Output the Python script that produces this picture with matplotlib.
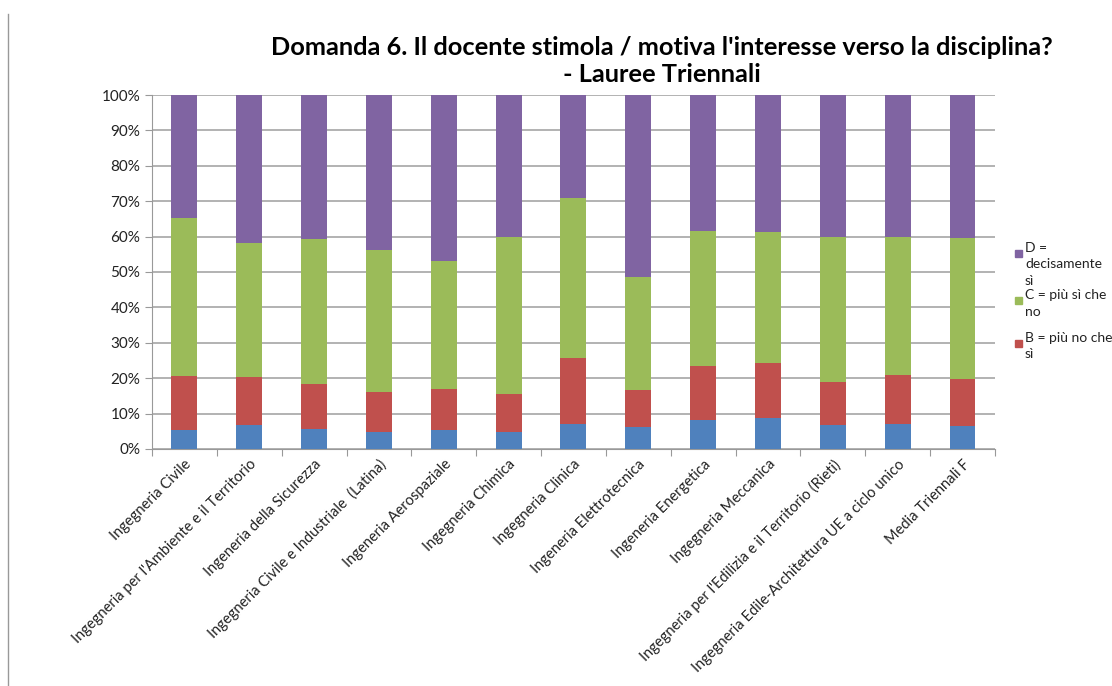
import matplotlib.pyplot as plt
import numpy as np
from matplotlib.lines import Line2D
from matplotlib.patches import Rectangle

plt.rcParams['font.family'] = ['Lato', 'DejaVu Sans']

corsi = ['Ingegneria Civile',
         "Ingegneria per l'Ambiente e il Territorio",
         'Ingeneria della Sicurezza',
         'Ingegneria Civile e Industriale  (Latina)',
         'Ingeneria Aerospaziale',
         'Ingegneria Chimica',
         'Ingegneria Clinica',
         'Ingeneria Elettrotecnica',
         'Ingeneria Energetica',
         'Ingegneria Meccanica',
         "Ingegneria per l'Edilizia e il Territorio (Rieti)",
         'Ingegneria Edile-Architettura UE a ciclo unico',
         'Media Triennali F']

# percentuali
A = [5.4, 6.8, 5.6, 4.9, 5.4, 4.9, 7.0, 6.2, 8.3, 8.8, 6.7, 7.2, 6.4]
B = [15.2, 13.4, 12.9, 11.2, 11.5, 10.6, 18.8, 10.4, 15.2, 15.6, 12.2, 13.6, 13.4]
C = [44.7, 38.0, 40.8, 40.0, 36.3, 44.3, 45.0, 32.1, 38.1, 36.9, 40.9, 39.2, 39.8]
D = [34.7, 41.8, 40.7, 43.9, 46.8, 40.2, 29.2, 51.3, 38.4, 38.7, 40.2, 40.0, 40.4]

colori = {'A': '#4F81BD', 'B': '#C0504D', 'C': '#9BBB59', 'D': '#8064A2'}
legenda = [('D', 'D =\ndecisamente\nsì'),
           ('C', 'C = più sì che\nno'),
           ('B', 'B = più no che\nsì')]

fig = plt.figure(figsize=(11.12, 6.86), dpi=100)
ax = fig.add_axes([0.1367, 0.3455, 0.758, 0.516])

x = np.arange(len(corsi))
w = 0.4
b1 = np.array(A)
b2 = b1 + np.array(B)
b3 = b2 + np.array(C)
ax.bar(x, A, w, color=colori['A'], zorder=3)
ax.bar(x, B, w, bottom=b1, color=colori['B'], zorder=3)
ax.bar(x, C, w, bottom=b2, color=colori['C'], zorder=3)
ax.bar(x, D, w, bottom=b3, color=colori['D'], zorder=3)

ax.set_ylim(0, 100)
ax.set_xlim(-0.5, len(corsi) - 0.5)
ax.set_yticks(np.arange(0, 101, 10))
ax.set_yticklabels([f'{v}%' for v in range(0, 101, 10)], fontsize=11, color='#222222')
ax.yaxis.grid(True, color='#a6a6a6', linewidth=1.2, zorder=0)

ax.set_xticks(np.arange(len(corsi) + 1) - 0.5)
ax.set_xticklabels([])
ax.set_xticks(x, minor=True)
ax.set_xticklabels(corsi, minor=True, rotation=45, ha='right', rotation_mode='anchor',
                   fontsize=10.5, color='#222222')
ax.tick_params(axis='x', which='major', length=5, color='#999999')
ax.tick_params(axis='x', which='minor', length=0, pad=6)
ax.tick_params(axis='y', length=5, color='#999999')

for s in ['top', 'right']:
    ax.spines[s].set_visible(False)
for s in ['left', 'bottom']:
    ax.spines[s].set_color('#999999')

fig.text(0.595, 1 - 55 / 686, "Domanda 6. Il docente stimola / motiva l'interesse verso la disciplina?",
         ha='center', va='baseline', fontsize=18.3, fontweight='bold')
fig.text(0.595, 1 - 82 / 686, "- Lauree Triennali", ha='center', va='baseline',
         fontsize=18.3, fontweight='bold')

# legenda a destra (tagliata come nell'originale)
W, H = 1112, 686
tops = [242, 289, 332]
for (k, lab), top in zip(legenda, tops):
    fig.add_artist(Rectangle((1015 / W, 1 - (top + 15) / H), 7 / W, 7 / H,
                             color=colori[k], transform=fig.transFigure))
    fig.text(1025 / W, 1 - top / H, lab, ha='left', va='top', fontsize=10,
             linespacing=1.45, color='#222222')

fig.add_artist(Line2D([8 / W, 8 / W], [0, 0.98], color='#999999', linewidth=1))

fig.savefig('out.png')
